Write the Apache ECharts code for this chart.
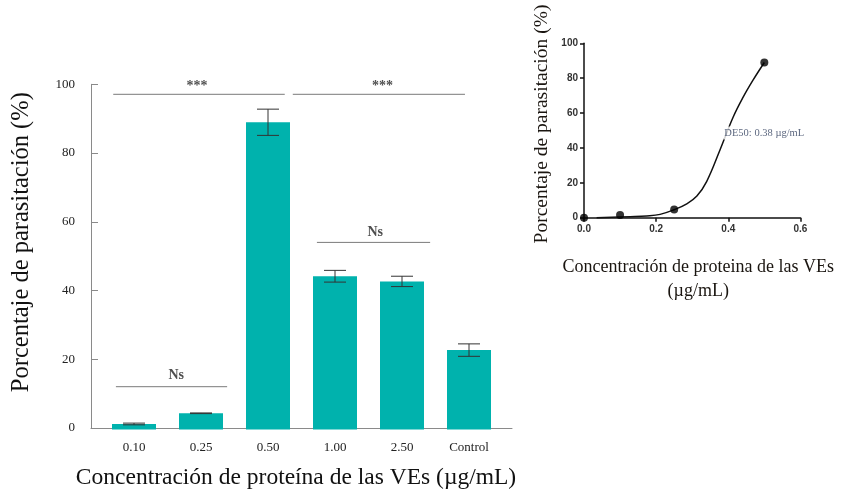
<!DOCTYPE html>
<html><head><meta charset="utf-8">
<script src="https://cdn.jsdelivr.net/npm/echarts@6/dist/echarts.min.js"></script>
<style>html,body{margin:0;padding:0;background:#fff}#c{width:856px;height:495px}</style>
</head><body><div id="c"></div>
<script>
// ---- Left chart data ----
var categories = ['0.10', '0.25', '0.50', '1.00', '2.50', 'Control'];
var parasitemia = [1.6, 4.7, 89.0, 44.4, 42.9, 23.0];
var errors = [0.25, 0.1, 3.8, 1.7, 1.5, 1.8];
var yTicks = [0, 20, 40, 60, 80, 100];
// significance brackets (category-index units on x, % on y)
var bracketStart = [-0.31, 2.37, -0.27, 2.73];
var bracketEnd = [2.25, 4.94, 1.39, 4.42];
var bracketY = [97.1, 97.1, 12.4, 54.2];
var bracketLabel = ['***', '***', 'Ns', 'Ns'];
var bracketLabelX = [0.94, 3.71, 0.63, 3.6];
var bracketLabelY = [99.5, 99.5, 15.6, 57.2];
// ---- Right chart data ----
var doseX = [0, 0.1, 0.25, 0.5];
var doseY = [0, 1.6, 4.7, 89.0];
var fitX = [0.035, 0.128, 0.174, 0.211, 0.25, 0.285, 0.313, 0.34, 0.377, 0.414, 0.442, 0.469, 0.5];
var fitY = [0.0, 0.6, 1.0, 1.9, 4.6, 7.9, 12.4, 20.7, 38.8, 57.9, 69.4, 79.0, 89.0];
var ed50Text = 'DE50: 0.38 µg/mL';
var ed50Pos = [0.385, 48.6];

var serif = '"Liberation Serif", "Times New Roman", serif';
var sans = '"Liberation Sans", Arial, sans-serif';
var teal = '#00B2AD';

var chart = echarts.init(document.getElementById('c'), null, {renderer: 'canvas'});

var series = [];
series.push({
  type: 'bar', xAxisIndex: 0, yAxisIndex: 0, data: parasitemia,
  barWidth: 44, itemStyle: {color: teal}, silent: true
});
series.push({
  type: 'custom', xAxisIndex: 0, yAxisIndex: 0,
  data: parasitemia.map(function (v, i) { return [i, v - errors[i], v + errors[i]]; }),
  renderItem: function (params, api) {
    var lo = api.coord([api.value(0), api.value(1)]);
    var hi = api.coord([api.value(0), api.value(2)]);
    var hw = 11;
    var st = {stroke: '#333', lineWidth: 1};
    return {type: 'group', children: [
      {type: 'line', shape: {x1: hi[0], y1: hi[1], x2: lo[0], y2: lo[1]}, style: st},
      {type: 'line', shape: {x1: hi[0] - hw, y1: hi[1], x2: hi[0] + hw, y2: hi[1]}, style: st},
      {type: 'line', shape: {x1: lo[0] - hw, y1: lo[1], x2: lo[0] + hw, y2: lo[1]}, style: st}
    ]};
  },
  z: 5, silent: true
});
for (var b = 0; b < bracketStart.length; b++) {
  series.push({
    type: 'line', xAxisIndex: 1, yAxisIndex: 0, clip: false, symbol: 'none', silent: true,
    data: [[bracketStart[b], bracketY[b]], [bracketEnd[b], bracketY[b]]],
    lineStyle: {color: '#7a7a7a', width: 1}
  });
}
series.push({
  type: 'scatter', xAxisIndex: 1, yAxisIndex: 0, clip: false, symbolSize: 1, silent: true,
  itemStyle: {color: 'transparent'},
  data: bracketLabelX.map(function (x, i) { return {value: [x, bracketLabelY[i]], name: bracketLabel[i]}; }),
  label: {show: true, position: 'inside', formatter: function (p) { return p.name; },
    fontFamily: serif, fontWeight: 'bold', fontSize: 14, color: '#222'}
});
// right chart
series.push({
  type: 'line', xAxisIndex: 3, yAxisIndex: 2, data: fitX.map(function (x, i) { return [x, fitY[i]]; }),
  smooth: 0.4, symbol: 'none', lineStyle: {color: '#111', width: 1.5}, silent: true, clip: false
});
series.push({
  type: 'scatter', xAxisIndex: 3, yAxisIndex: 2, data: doseX.map(function (x, i) { return [x, doseY[i]]; }),
  symbolSize: 8, itemStyle: {color: '#000'}, silent: true, clip: false, z: 6
});
series.push({
  type: 'scatter', xAxisIndex: 3, yAxisIndex: 2, data: [{value: ed50Pos, name: ed50Text}],
  symbolSize: 1, itemStyle: {color: 'transparent'}, silent: true, z: 7,
  label: {show: true, position: 'right', distance: 0, formatter: function (p) { return p.name; },
    fontFamily: serif, fontSize: 10.5, color: '#33415f', backgroundColor: '#fff', padding: [1, 1]}
});
series.push({type: 'line', xAxisIndex: 2, yAxisIndex: 1, data: [], silent: true});

var option = {
  animation: false,
  backgroundColor: '#fff',
  grid: [
    {left: 100.5, top: 84.3, width: 402, height: 345.2},
    {left: 91, top: 84.3, width: 421, height: 345.2},
    {left: 584, top: 43.3, width: 216.4, height: 174.4}
  ],
  xAxis: [
    {type: 'category', gridIndex: 0, data: categories,
      axisLine: {show: false}, axisTick: {show: false},
      axisLabel: {fontFamily: serif, fontSize: 13, color: '#222', margin: 12}},
    {type: 'value', gridIndex: 0, min: -0.5, max: 5.5, show: false},
    {type: 'value', gridIndex: 1, min: 0, max: 1,
      axisLine: {show: true, onZero: false, lineStyle: {color: '#8a8a8a', width: 1}},
      axisTick: {show: false}, axisLabel: {show: false}, splitLine: {show: false},
      name: 'Concentración de proteína de las VEs (µg/mL)', nameLocation: 'middle', nameGap: 38,
      nameTextStyle: {fontFamily: serif, fontSize: 23.5, color: '#111', padding: [0, 11, 0, 0]}},
    {type: 'value', gridIndex: 2, min: 0, max: 0.6, interval: 0.2,
      axisLine: {show: true, onZero: false, lineStyle: {color: '#111', width: 1.5}},
      axisTick: {show: true, length: 4, lineStyle: {color: '#111', width: 1.5}},
      axisLabel: {fontFamily: sans, fontWeight: 'bold', fontSize: 10, color: '#333', margin: 7,
        formatter: function (v) { return v.toFixed(1); }},
      splitLine: {show: false},
      name: 'Concentración de proteina de las VEs\n(µg/mL)', nameLocation: 'middle', nameGap: 38,
      nameTextStyle: {fontFamily: serif, fontSize: 18, color: '#1a1510', lineHeight: 24, padding: [0, 0, 0, 12]}}
  ],
  yAxis: [
    {type: 'value', gridIndex: 0, min: 0, max: 100, show: false},
    {type: 'value', gridIndex: 1, min: 0, max: 100, interval: 20,
      axisLine: {show: true, lineStyle: {color: '#8a8a8a', width: 1}},
      axisTick: {show: true, inside: true, length: 7, lineStyle: {color: '#8a8a8a'}},
      axisLabel: {fontFamily: serif, fontSize: 13, color: '#222', margin: 16},
      splitLine: {show: false},
      name: 'Porcentaje de parasitación (%)', nameLocation: 'middle', nameGap: 57,
      nameTextStyle: {fontFamily: serif, fontSize: 24.5, color: '#111', padding: [0, 0, 0, 28]}},
    {type: 'value', gridIndex: 2, min: 0, max: 100, interval: 20,
      axisLine: {show: true, lineStyle: {color: '#111', width: 1.5}},
      axisTick: {show: true, length: 4, lineStyle: {color: '#111', width: 1.5}},
      axisLabel: {fontFamily: sans, fontWeight: 'bold', fontSize: 10, color: '#333', margin: 6},
      splitLine: {show: false},
      name: 'Porcentaje de parasitación (%)', nameLocation: 'middle', nameGap: 32,
      nameTextStyle: {fontFamily: serif, fontSize: 19.5, color: '#1a1510', padding: [0, 0, 0, 13]}}
  ],
  series: series
};
chart.setOption(option);
</script>
</body></html>
